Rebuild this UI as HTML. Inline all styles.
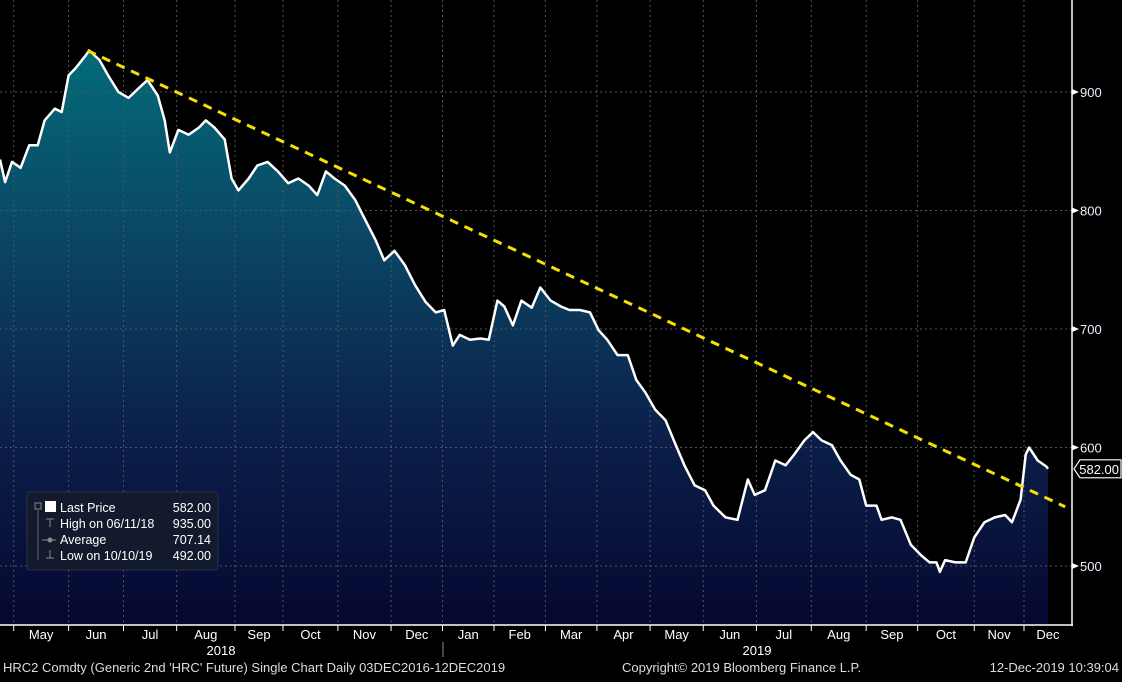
<!DOCTYPE html>
<html><head><meta charset="utf-8"><style>
body{margin:0;background:#000;width:1122px;height:677px;overflow:hidden;font-family:"Liberation Sans",sans-serif}
svg text{font-family:"Liberation Sans",sans-serif}
</style></head><body>
<svg id="chart" width="1122" height="677" xmlns="http://www.w3.org/2000/svg">
<defs>
<linearGradient id="fill" x1="0" y1="0" x2="0" y2="625" gradientUnits="userSpaceOnUse">
<stop offset="0" stop-color="#007480"/>
<stop offset="0.35" stop-color="#0a4a66"/>
<stop offset="0.7" stop-color="#0b1f4a"/>
<stop offset="1" stop-color="#060830"/>
</linearGradient>
</defs>
<path id="area" fill="url(#fill)"/>
<g id="vgrid"></g>
<path id="line" fill="none" stroke="#fff" stroke-width="2.5" stroke-linejoin="round"/>
<line id="trend" stroke="#f5e000" stroke-width="3" stroke-dasharray="9,7"/>
<g id="axes"></g>
<g>
<rect x="27" y="492" width="191" height="78" rx="3" fill="#141a2e" stroke="#2a3045"/>
<rect x="35" y="503" width="6" height="6" fill="none" stroke="#888"/>
<line x1="38" y1="510" x2="38" y2="560" stroke="#666"/>
<rect x="45" y="501" width="11" height="11" fill="#fff"/>
<g font-size="12.5" fill="#fff">
<text x="60" y="512">Last Price</text><text x="211" y="512" text-anchor="end">582.00</text>
<text x="60" y="528">High on 06/11/18</text><text x="211" y="528" text-anchor="end">935.00</text>
<text x="60" y="544">Average</text><text x="211" y="544" text-anchor="end">707.14</text>
<text x="60" y="560">Low on 10/10/19</text><text x="211" y="560" text-anchor="end">492.00</text>
</g>
<g stroke="#888"><line x1="46" y1="519" x2="54" y2="519"/><line x1="50" y1="519" x2="50" y2="527"/><line x1="42" y1="540" x2="56" y2="540"/><circle cx="50" cy="540" r="2" fill="#888"/><line x1="50" y1="550" x2="50" y2="558"/><line x1="46" y1="558" x2="54" y2="558"/></g>
</g>
<g font-size="13" fill="#ddd">
<text x="3" y="672">HRC2 Comdty (Generic 2nd 'HRC' Future) Single Chart  Daily 03DEC2016-12DEC2019</text>
<text x="622" y="672">Copyright© 2019 Bloomberg Finance L.P.</text>
<text x="1119" y="672" text-anchor="end">12-Dec-2019 10:39:04</text>
</g>
</svg>
<script>
// days since 2018-04-10
const days=[0,3,7,12,17,22,26,32,36,40,44,50,52,58,63,69,75,80,86,92,96,99,104,110,116,120,125,131,135,139,145,150,156,162,168,174,180,185,190,195,201,207,213,219,224,230,236,242,248,254,259,264,268,274,280,285,290,294,299,304,310,315,321,327,332,338,344,349,354,360,366,371,376,382,388,394,399,405,411,416,423,430,436,440,446,452,458,463,469,474,479,485,490,496,501,505,511,514,520,525,531,537,542,546,548,551,557,563,568,574,580,586,590,595,598,600,605,610,611];
const prices=[843,824,841,836,855,855,876,886,883,914,920,931,935,927,914,900,895,902,910,897,876,849,868,864,870,876,870,860,827,817,827,838,841,833,823,827,821,813,833,827,821,809,792,775,758,766,754,737,723,714,716,686,695,691,692,691,724,719,703,724,718,735,724,719,716,716,714,699,691,678,678,657,647,632,623,602,585,568,564,551,541,539,573,560,564,589,585,594,606,613,606,602,589,577,573,551,551,539,541,539,518,509,503,503,495,505,503,503,524,537,541,543,537,556,594,600,589,584,582];
const trendDays=[51,621];
const trendVals=[935,550];
const yTicks=[500,600,700,800,900];
const months=['May','Jun','Jul','Aug','Sep','Oct','Nov','Dec','Jan','Feb','Mar','Apr','May','Jun','Jul','Aug','Sep','Oct','Nov','Dec'];
const boundDays=[8,40,72,103,137,165,197,228,258,288,318,348,379,410,441,473,505,535,568,597,625];
const lastPrice=582;

const X=d=>d*1048/611, Y=v=>566-(v-500)*1.185;
const NS='http://www.w3.org/2000/svg';
function mk(tag,attrs,parent,txt){const e=document.createElementNS(NS,tag);for(const k in attrs)e.setAttribute(k,attrs[k]);if(txt!==undefined)e.textContent=txt;parent.appendChild(e);return e;}
let d='';days.forEach((t,i)=>{d+=(i?'L':'M')+X(t).toFixed(1)+','+Y(prices[i]).toFixed(1);});
document.getElementById('line').setAttribute('d',d);
document.getElementById('area').setAttribute('d',d+'L'+X(days[days.length-1]).toFixed(1)+',625L0,625Z');
const tr=document.getElementById('trend');
tr.setAttribute('x1',X(trendDays[0]));tr.setAttribute('y1',Y(trendVals[0]));
tr.setAttribute('x2',X(trendDays[1]));tr.setAttribute('y2',Y(trendVals[1]));
const vg=document.getElementById('vgrid'),ax=document.getElementById('axes');
yTicks.forEach(v=>{
 const g=mk('line',{x1:0,x2:1072,y1:Y(v),y2:Y(v),stroke:'#555','stroke-dasharray':'2,3'},vg);
 
 
 mk('path',{d:`M1072,${Y(v)-3}L1079,${Y(v)}L1072,${Y(v)+3}Z`,fill:'#fff'},ax);
 const t=mk('text',{x:1080,y:Y(v)+5,'font-size':13,fill:'#e8f0ff'},ax,v);
 
 
});
boundDays.slice(0,-1).forEach(b=>{
 const l=mk('line',{x1:X(b),x2:X(b),y1:0,y2:625,stroke:'#555','stroke-dasharray':'2,3'},vg);
 
 
 mk('line',{x1:X(b),x2:X(b),y1:625,y2:631,stroke:'#fff'},ax);
});
mk('line',{x1:0,x2:1073,y1:625,y2:625,stroke:'#fff','stroke-width':1.5},ax);
mk('line',{x1:1072,x2:1072,y1:0,y2:626,stroke:'#fff','stroke-width':1.5},ax);
months.forEach((m,i)=>{
 const cx=(X(boundDays[i])+Math.min(1072,X(boundDays[i+1])))/2;
 const t=mk('text',{x:cx,y:639,'font-size':13,fill:'#fff','text-anchor':'middle'},ax,m);
 
 
});
[['2018',221],['2019',757]].forEach(([y,x])=>{const t=mk('text',{x:x,y:655,'font-size':13,fill:'#fff','text-anchor':'middle'},ax,y);
 
 });
mk('line',{x1:443,x2:443,y1:642,y2:657,stroke:'#888'},ax);
const ly=Y(lastPrice);
const lb=mk('path',{d:`M1074,${ly}L1080,${ly-9}L1121,${ly-9}L1121,${ly+9}L1080,${ly+9}Z`,fill:'#000',stroke:'#fff','stroke-width':1.2},ax);


mk('text',{x:1119,y:ly+5,'font-size':13,fill:'#fff','text-anchor':'end'},ax,lastPrice.toFixed(2));
</script>
</body></html>
